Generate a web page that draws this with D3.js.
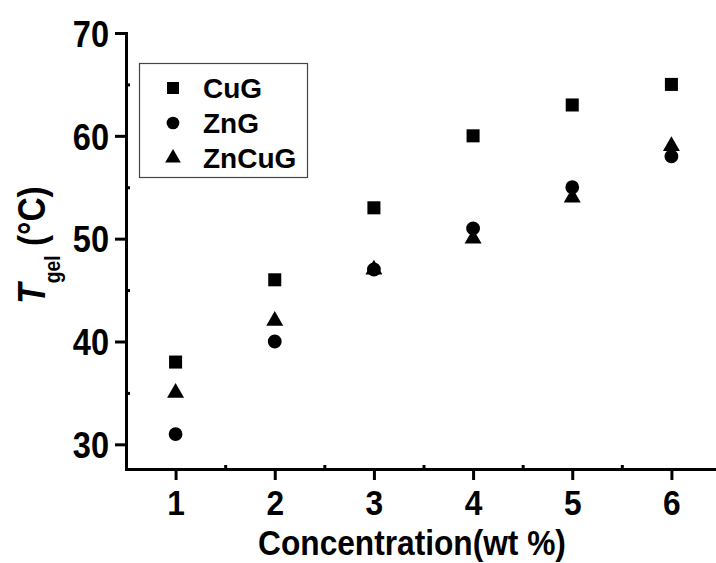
<!DOCTYPE html>
<html>
<head>
<meta charset="utf-8">
<script src="https://cdn.jsdelivr.net/npm/d3@7"></script>
<style>
  body { margin: 0; background: #fff; }
  text { font-family: Arial, "Liberation Sans", sans-serif; font-weight: bold; fill: #000; }
</style>
</head>
<body>
<svg id="chart" width="716" height="563"></svg>
<script>
// data
const concentration = [1, 2, 3, 4, 5, 6];
const cuG = [38, 46, 53, 60, 63, 65];
const znG = [31, 40, 47, 51, 55, 58];
const znCuG = [35, 42, 47, 50, 54, 59];
const xTicks = [1, 2, 3, 4, 5, 6];
const xMinor = [1.5, 2.5, 3.5, 4.5, 5.5];
const yTicks = [30, 40, 50, 60, 70];
const yMinor = [35, 45, 55, 65];

const series = [
  { name: 'CuG', values: cuG, shape: d3.symbolSquare, size: 170 },
  { name: 'ZnG', values: znG, shape: d3.symbolCircle, size: 150 },
  { name: 'ZnCuG', values: znCuG, shape: d3.symbolTriangle, size: 125 }
];

const svg = d3.select('#chart');
svg.append('rect').attr('width', 716).attr('height', 563).attr('fill', '#fff');

const x = d3.scaleLinear().domain([0.5, 6.5]).range([126, 721]);
const y = d3.scaleLinear().domain([27.6, 70]).range([469, 33]);

// squeeze used for the narrow Origin-style labels
const SQ = 0.88;

// x axis
const gx = svg.append('g').attr('transform', 'translate(0,469)');
gx.call(d3.axisBottom(x).tickValues(xTicks).tickSize(11).tickSizeOuter(0).tickFormat(d3.format('d')));
gx.append('g').call(d3.axisBottom(x).tickValues(xMinor).tickSize(-4).tickFormat(''))
  .select('.domain').remove();

// y axis
const gy = svg.append('g').attr('transform', 'translate(126,0)');
gy.call(d3.axisLeft(y).tickValues(yTicks).tickSize(11).tickSizeOuter(0).tickFormat(d3.format('d')));
gy.append('g').call(d3.axisLeft(y).tickValues(yMinor).tickSize(-4).tickFormat(''))
  .select('.domain').remove();

svg.selectAll('.domain').attr('stroke', '#000').attr('stroke-width', 3).attr('stroke-linecap', 'square');
svg.selectAll('.tick line').attr('stroke', '#000').attr('stroke-width', 3);

gx.selectAll('.tick text')
  .attr('font-size', 36).attr('font-family', null)
  .attr('y', null).attr('dy', null)
  .attr('transform', `translate(0,46) scale(${SQ},1)`);

gy.selectAll('.tick text')
  .attr('font-size', 37).attr('font-family', null)
  .attr('x', null).attr('dy', '0.36em')
  .attr('transform', `translate(-17,0) scale(${SQ},1)`);

// axis titles
svg.append('text')
  .attr('transform', `translate(412,555) scale(${SQ},1)`)
  .attr('text-anchor', 'middle')
  .attr('font-size', 36)
  .text('Concentration(wt %)');

const yTitle = svg.append('text')
  .attr('transform', `translate(45,245) rotate(-90) scale(${SQ},1)`)
  .attr('text-anchor', 'middle')
  .attr('font-size', 38);
yTitle.append('tspan').attr('font-style', 'italic').text('T');
yTitle.append('tspan').attr('font-size', 22).attr('dy', 15).text('gel');
yTitle.append('tspan').attr('dy', -15).text(' (°C)');

// markers
const symbol = d3.symbol();
series.forEach((s) => {
  svg.append('g').selectAll('path')
    .data(s.values)
    .join('path')
    .attr('transform', (d, i) => `translate(${x(concentration[i])},${y(d)})`)
    .attr('d', symbol.type(s.shape).size(s.size)())
    .attr('fill', '#000');
});

// legend
const legend = svg.append('g');
legend.append('rect')
  .attr('x', 139.5).attr('y', 63.5).attr('width', 168).attr('height', 114)
  .attr('fill', 'none').attr('stroke', '#444').attr('stroke-width', 1.2);
series.forEach((s, i) => {
  const yy = 88 + i * 35;
  legend.append('path')
    .attr('transform', `translate(173,${yy})`)
    .attr('d', symbol.type(s.shape).size(s.size * 0.85)())
    .attr('fill', '#000');
  legend.append('text')
    .attr('x', 203).attr('y', yy + 10)
    .attr('font-size', 28)
    .text(s.name);
});
</script>
</body>
</html>
